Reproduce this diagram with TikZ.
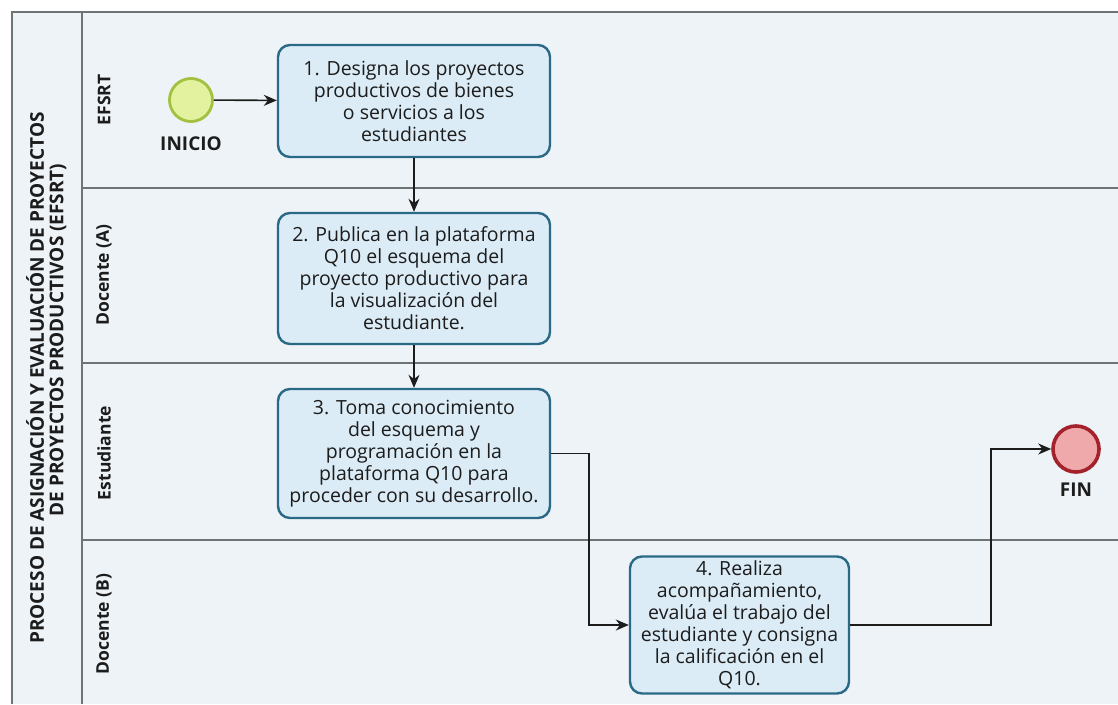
\documentclass[tikz,border=0pt]{standalone}
\usepackage{fontspec}
\setmainfont{Open Sans}
\usetikzlibrary{arrows.meta}
\definecolor{bgpool}{HTML}{EDF3F7}
\definecolor{lanegray}{HTML}{6E7376}
\definecolor{boxfill}{HTML}{DCECF6}
\definecolor{boxdraw}{HTML}{2B6A86}
\definecolor{startfill}{HTML}{E2F29E}
\definecolor{startdraw}{HTML}{A3C13E}
\definecolor{endfill}{HTML}{F0A9AA}
\definecolor{enddraw}{HTML}{A3222C}
\definecolor{txt}{HTML}{1C1C1C}
\tikzset{
  task/.style={draw=boxdraw, line width=2.4pt, rounded corners=12pt, fill=boxfill,
    align=center, inner sep=0pt, text=txt,
    font=\fontsize{19.5}{22}\selectfont},
  lanelbl/.style={rotate=90, font=\bfseries\fontsize{17.5}{20}\selectfont, text=txt},
  titlelbl/.style={rotate=90, font=\bfseries\fontsize{19}{22}\selectfont, text=txt},
  evlbl/.style={font=\bfseries\fontsize{19}{22}\selectfont, text=txt},
  flow/.style={line width=1.6pt, draw=txt, -{Stealth[length=13pt,width=11pt]}},
  lane/.style={draw=lanegray, line width=1.6pt}
}
\begin{document}
\begin{tikzpicture}[x=1pt,y=-1pt]
\useasboundingbox (0,0) rectangle (1118,704);
\fill[white] (0,0) rectangle (1118,704);
\fill[bgpool] (12,12) rectangle (1118,704);
% pool and lanes
\draw[lane] (12,704) -- (12,12) -- (1118,12);
\draw[lane] (82,12) -- (82,704);
\draw[lane] (82,188) -- (1118,188);
\draw[lane] (82,363) -- (1118,363);
\draw[lane] (82,540) -- (1118,540);
% titles
\node[titlelbl] (t1) at (35,378) {PROCESO DE ASIGNACIÓN Y EVALUACIÓN DE PROYECTOS};
\node[titlelbl] (t2) at (58,340) {DE PROYECTOS PRODUCTIVOS (EFSRT)};
\node[lanelbl] (l1) at (104,100) {EFSRT};
\node[lanelbl] (l2) at (104,275) {Docente (A)};
\node[lanelbl] (l3) at (104,453) {Estudiante};
\node[lanelbl] (l4) at (104,624) {Docente (B)};
% events
\node[circle, draw=startdraw, line width=2.8pt, fill=startfill, minimum size=43pt, inner sep=0pt] (ini) at (191,100) {};
\node[evlbl] (inil) at (191,144) {INICIO};
\node[circle, draw=enddraw, line width=3.6pt, fill=endfill, minimum size=46pt, inner sep=0pt] (fin) at (1076,449) {};
\node[evlbl] (finl) at (1076,490) {FIN};
% tasks
\node[task, minimum width=272pt, minimum height=112pt] (b1) at (414,101)
  {1. Designa los proyectos\\productivos de bienes\\o servicios a los\\estudiantes};
\node[task, minimum width=272pt, minimum height=131pt] (b2) at (414,278.5)
  {2. Publica en la plataforma\\Q10 el esquema del\\proyecto productivo para\\la visualización del\\estudiante.};
\node[task, minimum width=272pt, minimum height=129pt] (b3) at (414,453.5)
  {3. Toma conocimiento\\del esquema y\\programación en la\\plataforma Q10 para\\proceder con su desarrollo.};
\node[task, minimum width=219pt, minimum height=137pt] (b4) at (739.5,625)
  {4. Realiza\\acompañamiento,\\evalúa el trabajo del\\estudiante y consigna\\la calificación en el\\Q10.};
% flows
\draw[flow] (ini) -- (b1);
\draw[flow] (b1) -- (b2);
\draw[flow] (b2) -- (b3);
\draw[flow] (b3.east) -- ++(38,0) |- (b4.west);
\draw[flow] (b4.east) -- ++(141,0) |- (fin.west);
\end{tikzpicture}
\end{document}
